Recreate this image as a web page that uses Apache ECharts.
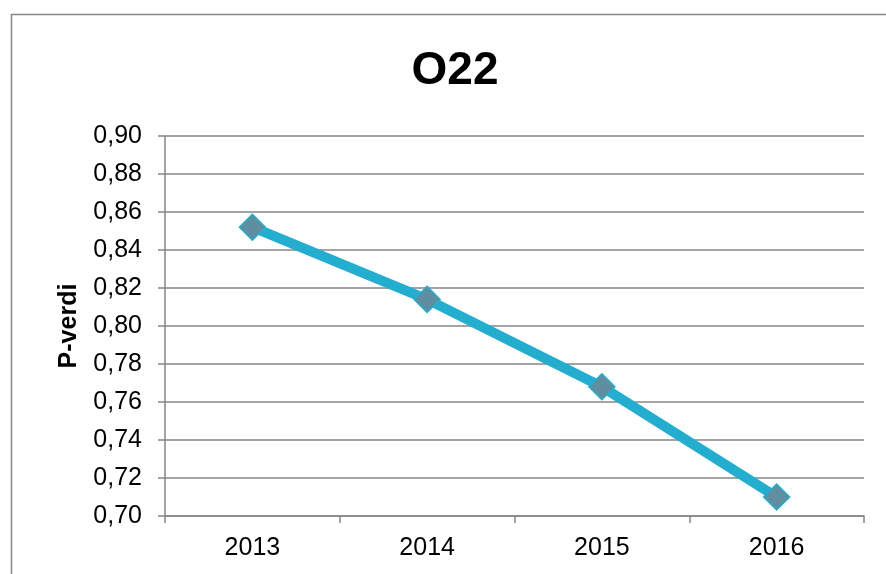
<!DOCTYPE html>
<html><head><meta charset="utf-8">
<script src="https://cdn.jsdelivr.net/npm/echarts@6/dist/echarts.min.js"></script>
<style>html,body{margin:0;padding:0;background:#fff}#c{width:886px;height:574px}</style>
</head><body><div id="c"></div>
<script>
const categories = ['2013','2014','2015','2016'];
const values = [0.852, 0.814, 0.768, 0.710];
const titleText = 'O22';
const yName = 'P-verdi';

const chart = echarts.init(document.getElementById('c'), null, {renderer:'canvas'});
chart.setOption({
  animation:false,
  backgroundColor:'#fff',
  graphic:[{type:'rect',shape:{x:11.5,y:14.5,width:900,height:600},style:{fill:'none',stroke:'#888',lineWidth:1.5},z:-1}],
  title:{text:titleText,left:450,top:43,textAlign:'center',textStyle:{fontFamily:'Liberation Sans',fontWeight:'bold',fontSize:46,color:'#000'}},
  grid:{left:165,right:22,top:136,bottom:58},
  xAxis:{type:'category',data:categories,boundaryGap:true,
    axisLine:{lineStyle:{color:'#868686',width:1.5}},
    axisTick:{show:true,length:7,alignWithLabel:false,lineStyle:{color:'#868686',width:1.5}},
    axisLabel:{fontFamily:'Liberation Sans',fontSize:25,color:'#000',margin:20}},
  yAxis:{type:'value',min:0.70,max:0.90,interval:0.02,
    name:yName,nameLocation:'middle',nameGap:83,nameRotate:90,
    nameTextStyle:{fontFamily:'Liberation Sans',fontWeight:'bold',fontSize:25,color:'#000'},
    axisLine:{show:true,lineStyle:{color:'#868686',width:1.5}},
    axisTick:{show:true,length:7,lineStyle:{color:'#868686',width:1.5}},
    splitLine:{lineStyle:{color:'#868686',width:1.5}},
    axisLabel:{fontFamily:'Liberation Sans',fontSize:25,color:'#000',margin:23,
      formatter:v=>v.toFixed(2).replace('.',',')}},
  series:[{type:'line',data:values,symbol:'diamond',symbolSize:26,
    lineStyle:{color:'#23aed0',width:10},
    itemStyle:{color:'#5f8ea0',borderColor:'#23aed0',borderWidth:1.5}}]
});
</script></body></html>
